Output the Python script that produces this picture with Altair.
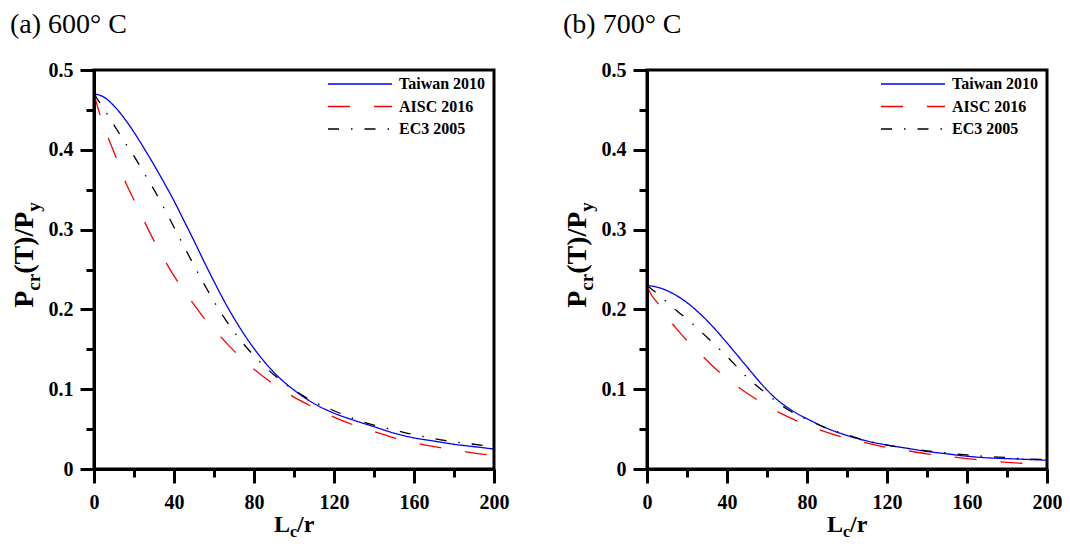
import altair as alt
import pandas as pd

SERIES = ["Taiwan 2010", "AISC 2016", "EC3 2005"]
COLORS = ["#0000ff", "#ff0000", "#000000"]
DASHES = [[1, 0], [22, 24], [11, 12, 1.5, 12]]
WIDTHS = [1.3, 1.3, 1.5]

X_TICKS = [0, 40, 80, 120, 160, 200]
X_MINOR = [20, 60, 100, 140, 180]
Y_TICKS = [0, 0.1, 0.2, 0.3, 0.4, 0.5]
Y_MINOR = [0.05, 0.15, 0.25, 0.35, 0.45]

# ---- (a) 600 C ----
L_TW_600 = [0, 5, 10, 15, 20, 25, 30, 35, 40, 45, 50, 55, 60, 65, 70, 75, 80, 85, 90, 95, 100,
            110, 120, 130, 140, 150, 160, 170, 180, 190, 200]
TW_600 = [0.470, 0.466, 0.455, 0.440, 0.422, 0.402, 0.381, 0.359, 0.336, 0.311, 0.286, 0.260,
          0.235, 0.211, 0.189, 0.169, 0.151, 0.135, 0.121, 0.109, 0.099,
          0.082, 0.070, 0.061, 0.053, 0.045, 0.039, 0.035, 0.031, 0.028, 0.025]
L_AISC_600 = [0, 2, 5, 10, 15, 20, 25, 30, 35, 40, 45, 50, 55, 60, 70, 80, 90, 100,
              110, 120, 130, 140, 150, 160, 170, 180, 190, 200]
AISC_600 = [0.470, 0.452, 0.429, 0.397, 0.364, 0.337, 0.311, 0.286, 0.263, 0.242, 0.223, 0.206,
            0.189, 0.175, 0.148, 0.125, 0.106, 0.090,
            0.077, 0.065, 0.055, 0.047, 0.039, 0.033, 0.028, 0.024, 0.020, 0.017]
L_EC3_600 = [0, 5, 10, 15, 20, 25, 30, 35, 40, 45, 50, 55, 60, 65, 70, 75, 80, 85, 90, 95, 100,
             110, 120, 130, 140, 150, 160, 170, 180, 190, 200]
EC3_600 = [0.470, 0.451, 0.431, 0.411, 0.392, 0.371, 0.350, 0.327, 0.303, 0.279, 0.255, 0.232,
           0.210, 0.190, 0.172, 0.156, 0.142, 0.129, 0.118, 0.108, 0.099,
           0.084, 0.073, 0.063, 0.055, 0.049, 0.043, 0.038, 0.034, 0.031, 0.028]

# ---- (b) 700 C ----
L_TW_700 = [0, 5, 10, 15, 20, 25, 30, 35, 40, 45, 50, 55, 60, 65, 70, 75, 80, 90, 100,
            110, 120, 130, 140, 150, 160, 170, 180, 190, 200]
TW_700 = [0.230, 0.228, 0.2235, 0.217, 0.2085, 0.198, 0.186, 0.1725, 0.158, 0.143, 0.128, 0.113,
          0.099, 0.087, 0.0775, 0.0695, 0.063, 0.051, 0.042,
          0.035, 0.030, 0.026, 0.022, 0.019, 0.016, 0.014, 0.013, 0.012, 0.011]
L_AISC_700 = [0, 2, 5, 10, 15, 20, 25, 30, 35, 40, 45, 50, 55, 60, 70, 80, 90, 100,
              110, 120, 130, 140, 150, 160, 170, 180, 190, 200]
AISC_700 = [0.230, 0.219, 0.209, 0.191, 0.175, 0.161, 0.148, 0.136, 0.124, 0.114, 0.104, 0.095,
            0.087, 0.079, 0.066, 0.055, 0.046, 0.0385,
            0.0325, 0.027, 0.023, 0.019, 0.016, 0.013, 0.0105, 0.0082, 0.0070, 0.0062]
L_EC3_700 = [0, 5, 10, 15, 20, 25, 30, 35, 40, 45, 50, 55, 60, 65, 70, 75, 80, 90, 100,
             110, 120, 130, 140, 150, 160, 170, 180, 190, 200]
EC3_700 = [0.230, 0.220, 0.209, 0.198, 0.188, 0.177, 0.165, 0.153, 0.141, 0.128, 0.115, 0.104,
           0.094, 0.084, 0.075, 0.068, 0.062, 0.051, 0.043,
           0.035, 0.030, 0.026, 0.0227, 0.020, 0.0177, 0.0157, 0.0143, 0.0127, 0.0117]

PANELS = [
    ("(a) 600° C", [(L_TW_600, TW_600), (L_AISC_600, AISC_600), (L_EC3_600, EC3_600)]),
    ("(b) 700° C", [(L_TW_700, TW_700), (L_AISC_700, AISC_700), (L_EC3_700, EC3_700)]),
]

W, H = 400, 399
FONT = "Liberation Serif"
ONE = pd.DataFrame({"k": [0]})


def txt(text, x, y, size, weight="bold", angle=0, align="left", baseline="alphabetic"):
    kw = dict(text=text, font=FONT, fontSize=size, fontWeight=weight, color="black",
              align=align, baseline=baseline)
    if angle:
        kw["angle"] = angle
    return alt.Chart(ONE).mark_text(**kw).encode(x=alt.value(x), y=alt.value(y))


def panel(title, curves):
    rows = []
    for name, (xs, ys) in zip(SERIES, curves):
        for xv, yv in zip(xs, ys):
            rows.append({"series": name, "L": xv, "v": yv})
    df = pd.DataFrame(rows)
    xs = alt.Scale(domain=[0, 200], nice=False, zero=False)
    ys = alt.Scale(domain=[0, 0.5], nice=False)
    common = dict(domainColor="black", domainWidth=3, tickColor="black", tickWidth=3,
                  grid=False, title=None, labelFont=FONT, labelFontWeight="bold",
                  labelFontSize=20, labelColor="black")
    major_x = alt.Axis(values=X_TICKS, tickSize=14, labelPadding=9, format="d",
                       labelFlush=False, labelOverlap=False, orient="bottom", **common)
    major_y = alt.Axis(values=Y_TICKS, tickSize=14, labelPadding=7,
                       labelExpr="datum.value == 0 ? '0' : format(datum.value, '.1f')",
                       labelFlush=False, labelOverlap=False, orient="left", **common)
    minor_x = alt.Axis(values=X_MINOR, tickSize=8, labels=False, domain=False,
                       tickColor="black", tickWidth=3, grid=False, title=None, orient="bottom")
    minor_y = alt.Axis(values=Y_MINOR, tickSize=8, labels=False, domain=False,
                       tickColor="black", tickWidth=3, grid=False, title=None, orient="left")

    frame = alt.Chart(ONE).mark_rect(fillOpacity=0, stroke="black", strokeWidth=3).encode(
        x=alt.value(0), x2=alt.value(W), y=alt.value(0), y2=alt.value(H))
    lines = alt.Chart(df).mark_line(interpolate="monotone").encode(
        x=alt.X("L:Q", scale=xs, axis=major_x),
        y=alt.Y("v:Q", scale=ys, axis=major_y),
        color=alt.Color("series:N", scale=alt.Scale(domain=SERIES, range=COLORS), legend=None),
        strokeDash=alt.StrokeDash("series:N", scale=alt.Scale(domain=SERIES, range=DASHES), legend=None),
        strokeWidth=alt.StrokeWidth("series:N", scale=alt.Scale(domain=SERIES, range=WIDTHS), legend=None),
    )
    minor = alt.Chart(df).mark_point(opacity=0).encode(
        x=alt.X("L:Q", scale=xs, axis=minor_x),
        y=alt.Y("v:Q", scale=ys, axis=minor_y),
    )
    layers = [lines, minor, frame]
    # legend
    for i, name in enumerate(SERIES):
        yy = 14 + 22.5 * i
        layers.append(alt.Chart(ONE).mark_rule(color=COLORS[i], strokeWidth=WIDTHS[i],
                                               strokeDash=DASHES[i]).encode(
            x=alt.value(234), x2=alt.value(298), y=alt.value(yy)))
        layers.append(txt(name, 305, yy, 16, baseline="middle"))
    # panel title
    layers.append(txt(title, -84, -37, 28, weight="normal"))
    # x title  L_c/r
    bx = 180
    layers.append(txt("L", bx, 462, 24))
    layers.append(txt("c", bx + 16.0, 467, 16))
    layers.append(txt("/r", bx + 23.1, 462, 24))
    # y title  P_cr(T)/P_y  (rotated)
    F, f = 28, 19
    yx = -61
    wP, wcr, wmid, wy = 0.611 * F, 0.888 * f, 2.222 * F, 0.5 * f
    y0 = 185 + (wP + wcr + wmid + wy) / 2
    layers.append(txt("P", yx, y0, F, angle=270))
    layers.append(txt("cr", yx + 7, y0 - wP, f, angle=270))
    layers.append(txt("(T)/P", yx, y0 - wP - wcr, F, angle=270))
    layers.append(txt("y", yx + 7, y0 - wP - wcr - wmid, f, angle=270))
    return alt.layer(*layers).resolve_axis(x="independent", y="independent").properties(
        width=W, height=H)


chart = alt.hconcat(*[panel(t, c) for t, c in PANELS], spacing=54).configure_view(
    strokeWidth=0).properties(padding={"left": 2, "top": 3, "right": 0, "bottom": 0})

chart.save("out.html", embed_options={"renderer": "svg", "actions": False})
